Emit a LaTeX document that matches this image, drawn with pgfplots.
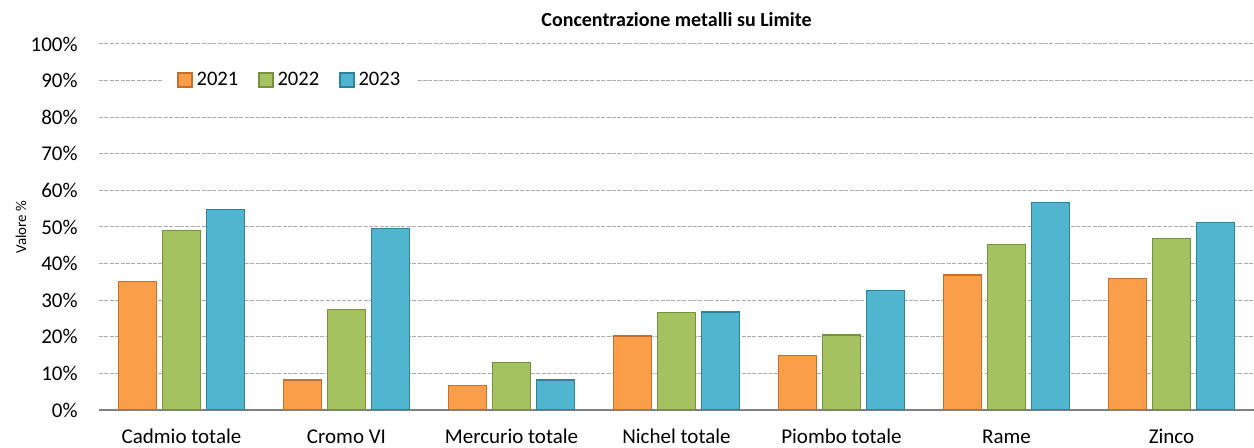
\documentclass[border=0pt]{standalone}
\usepackage{fontspec}
\setmainfont{Carlito}
\usepackage{pgfplots}
\pgfplotsset{compat=1.18}
\definecolor{or21}{RGB}{250,158,74}
\definecolor{gr22}{RGB}{164,195,96}
\definecolor{bl23}{RGB}{80,182,208}
\definecolor{or21d}{RGB}{196,112,44}
\definecolor{gr22d}{RGB}{118,146,62}
\definecolor{bl23d}{RGB}{46,130,155}

\begin{document}
\begin{tikzpicture}
\begin{axis}[
  scale only axis,
  width=577.5pt, height=183pt,
  xmin=-0.5, xmax=6.5,
  ymin=0, ymax=100,
  ybar=3pt, bar width=19pt,
  xtick={0,1,2,3,4,5,6},
  xticklabels={Cadmio totale,Cromo VI,Mercurio totale,Nichel totale,Piombo totale,Rame,Zinco},
  ytick={0,10,20,30,40,50,60,70,80,90,100},
  yticklabel={\pgfmathprintnumber{\tick}\%},
  /pgf/number format/assume math mode=true,
  major tick length=0pt,
  xticklabel style={font=\fontsize{10.5}{12}\selectfont, anchor=base, yshift=-17pt},
  yticklabel style={font=\fontsize{10.5}{12}\selectfont, anchor=east, inner sep=0pt, xshift=-10.5pt},
  ymajorgrids,
  grid style={gray!65, line width=0.5pt, dash pattern=on 2pt off 0.7pt},
  axis x line*=bottom, axis y line*=left,
  axis line style={-},
  x axis line style={gray, line width=1pt},
  y axis line style={draw=none},
  ylabel={Valore \%},
  ylabel style={font=\fontsize{7.5}{9}\selectfont, at={(axis description cs:-0.0675,0.5)}, anchor=center},
  title={\textbf{Concentrazione metalli su Limite}},
  title style={font=\fontsize{10}{12}\selectfont, at={(axis description cs:0.5,1)}, anchor=base, yshift=2.5pt},
  legend columns=3,
  legend style={at={(axis description cs:0.0554,0.9016)}, anchor=west, draw=none, fill=white,
    font=\fontsize{10.3}{12}\selectfont, inner xsep=7pt, inner ysep=2pt},
  legend image code/.code={\draw[#1] (0pt,-3.5pt) rectangle (7pt,3.5pt);},
  /tikz/every even column/.append style={column sep=8pt},
]
\coordinate (bl) at (rel axis cs:0,0);
\coordinate (tr) at (rel axis cs:1,1);
\addplot[fill=or21, draw=or21d, line width=0.6pt] coordinates {
  (0,35.0)(1,8.2)(2,6.6)(3,20.2)(4,14.8)(5,36.9)(6,35.9)
};
\addlegendentry{2021}
\addplot[fill=gr22, draw=gr22d, line width=0.6pt] coordinates {
  (0,49.0)(1,27.5)(2,12.9)(3,26.7)(4,20.5)(5,45.2)(6,46.8)
};
\addlegendentry{2022}
\addplot[fill=bl23, draw=bl23d, line width=0.6pt] coordinates {
  (0,54.8)(1,49.6)(2,8.2)(3,26.8)(4,32.7)(5,56.8)(6,51.2)
};
\addlegendentry{2023}
\end{axis}
\pgfresetboundingbox
\useasboundingbox ([shift={(-49.5pt,-19pt)}]bl) rectangle ([shift={(0pt,22pt)}]tr);
\end{tikzpicture}
\end{document}
